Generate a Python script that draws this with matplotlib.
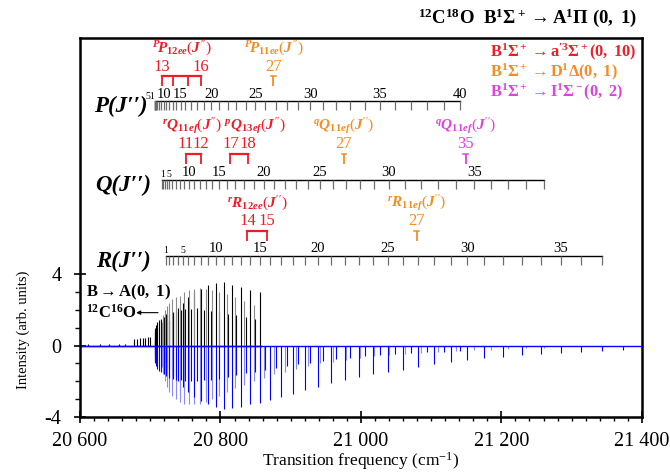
import matplotlib
matplotlib.use('Agg')
import matplotlib.pyplot as plt
from matplotlib.ticker import FixedLocator, MultipleLocator, FuncFormatter

plt.rcParams['font.family'] = ['Liberation Serif', 'DejaVu Serif']
plt.rcParams['mathtext.fontset'] = 'custom'
plt.rcParams['mathtext.rm'] = 'Liberation Serif'
plt.rcParams['mathtext.it'] = 'Liberation Serif:italic:bold'
plt.rcParams['mathtext.bf'] = 'Liberation Serif:bold'
plt.rcParams['axes.unicode_minus'] = False

# line positions (cm-1)
P_freq = [20707.3, 20706.8, 20706.4, 20706.4, 20706.8, 20707.8, 20709.7, 20712.0, 20715.3, 20719.6,
          20722.9, 20727.2, 20731.9, 20737.1, 20743.2, 20749.9, 20757.4, 20766.4, 20776.3, 20787.2,
          20798.6, 20810.4, 20822.7, 20835.9, 20849.6, 20863.8, 20878.9, 20894.5, 20910.6, 20927.6,
          20946.1, 20965.0, 20984.8, 21005.6, 21026.9, 21048.7, 21070.9, 21094.1, 21117.7, 21141.4]
Q_freq = [20717.0, 20718.4, 20720.6, 20723.4, 20726.9, 20731.1, 20736.1, 20741.8, 20748.1, 20755.2,
          20762.2, 20770.2, 20778.7, 20788.2, 20798.6, 20809.5, 20821.3, 20834.0, 20847.3, 20861.5,
          20876.1, 20891.7, 20907.8, 20924.3, 20941.8, 20960.3, 20979.2, 20998.6, 21018.9, 21039.7,
          21062.4, 21085.6, 21109.7, 21135.2, 21161.7, 21185.3, 21209.9, 21235.0, 21260.0]
R_freq = [20722.0, 20727.2, 20732.9, 20739.5, 20746.6, 20754.1, 20762.6, 20771.6, 20781.6, 20793.4,
          20804.7, 20816.5, 20829.3, 20842.6, 20856.3, 20870.9, 20886.5, 20903.1, 20920.6, 20939.0,
          20957.9, 20977.3, 20997.2, 21017.5, 21038.3, 21059.6, 21081.8, 21104.5, 21127.7, 21151.3,
          21175.9, 21201.9, 21228.8, 21256.3, 21284.6, 21313.5, 21342.8, 21372.5]

# simulated intensities (drawn downwards)
P_calc = [-0.3, -0.5, -0.7, -0.9, -1.0, -1.15, -1.3, -1.4, -1.5, -1.6,
          -1.7, -1.8, -1.85, -1.9, -1.95, -2.0, -2.0, -2.0, -1.95, -1.9,
          -1.85, -1.75, -1.65, -1.55, -1.45, -1.35, -1.25, -1.15, -1.05, -0.95,
          -0.85, -0.75, -0.68, -0.6, -0.53, -0.47, -0.42, -0.37, -0.33, -0.3]
Q_calc = [-1.2, -1.6, -2.0, -2.3, -2.6, -2.8, -3.0, -3.15, -3.25, -3.3,
          -3.3, -3.25, -3.15, -3.0, -2.8, -2.6, -2.4, -2.2, -2.0, -1.8,
          -1.6, -1.45, -1.3, -1.15, -1.0, -0.9, -0.8, -0.7, -0.6, -0.52,
          -0.45, -0.4, -0.35, -0.3, -0.26, -0.22, -0.19, -0.16, -0.14]
R_calc = [-0.9, -1.3, -1.7, -2.0, -2.3, -2.6, -2.9, -3.1, -3.3, -3.45,
          -3.55, -3.5, -3.45, -3.3, -3.2, -3.05, -2.9, -2.7, -2.5, -2.3,
          -2.1, -1.9, -1.75, -1.6, -1.5, -1.35, -1.2, -1.05, -0.92, -0.82,
          -0.72, -0.62, -0.52, -0.46, -0.4, -0.34, -0.3, -0.26]

# measured intensities (only up to ~20857 cm-1)
P_exp = [0.3, 0.5, 0.7, 0.9, 1.0, 1.15, 1.3, 1.45, 1.5, 1.6,
         1.75, 1.8, 1.9, 1.95, 2.0, 2.05, 2.05, 2.1, 2.0, 1.95,
         1.9, 1.8, 1.7, 1.6, 1.5]
Q_exp = [1.3, 1.7, 2.0, 2.2, 2.4, 2.6, 2.7, 2.8, 3.0, 3.1,
         3.2, 3.25, 3.2, 3.1, 3.0, 2.9, 2.7, 2.5, 2.3]
R_exp = [0.9, 1.4, 1.8, 2.1, 2.4, 2.7, 3.0, 3.2, 3.4, 3.5,
         3.55, 3.4, 3.3, 3.1, 3.0]

# 12C16O B-A(0,1) contamination lines
co16_freq = [20612, 20628, 20641, 20655, 20664, 20677, 20681, 20685, 20689, 20693, 20697, 20700]
co16_int = [0.12, 0.08, 0.12, 0.1, 0.1, 0.35, 0.4, 0.42, 0.45, 0.45, 0.5, 0.5]

RED = '#ee1c25'
ORANGE = '#f68b1f'
MAGENTA = '#e040e0'
BLUE = '#0000ff'
LBLUE = '#8a8aff'
GRAY = '#8c8c8c'

fig = plt.figure(figsize=(6.7, 4.74), dpi=100)
ax = fig.add_axes([0.1194, 0.1203, 0.8386, 0.7995])

# spectrum
ax.plot([20600, 20858], [0, 0], color='k', lw=1)
ax.vlines(co16_freq, 0, co16_int, color='k', lw=0.8)
ax.vlines(P_freq[:len(P_exp)], 0, P_exp, color='k', lw=0.8)
ax.vlines(R_freq[:len(R_exp)], 0, R_exp, color='k', lw=0.8)
ax.vlines(Q_freq[:len(Q_exp)], 0, Q_exp, color=GRAY, lw=0.8)
ax.vlines(Q_freq, Q_calc, 0, color=LBLUE, lw=0.8)
ax.vlines(P_freq, P_calc, 0, color=BLUE, lw=0.8)
ax.vlines(R_freq, R_calc, 0, color=BLUE, lw=0.8)
ax.axhline(0, color=BLUE, lw=1)


def ladder(freqs, y0, name, labels, small, name_x=20701):
    ax.plot([min(freqs), max(freqs)], [y0, y0], color='k', lw=1)
    ax.vlines(freqs, y0 - 0.52, y0, color='#6e6e6e', lw=0.9)
    for j in labels:
        ax.text(freqs[j - 1], y0 + 0.03, str(j), ha='center', va='bottom', fontsize=10.5)
    for j in small:
        ax.text(freqs[j - 1], y0 + 0.03, str(j), ha='center', va='bottom', fontsize=7)
    ax.text(name_x, y0 - 0.3, name, ha='right', va='center', fontsize=16.5,
            fontweight='bold', fontstyle='italic')


def marker(xs, y0, color, nums, label, lx):
    if len(xs) == 1:
        ax.plot([xs[0] - 3.5, xs[0] + 3.5], [y0, y0], color=color, lw=1.1)
    else:
        ax.plot([xs[0], xs[-1]], [y0, y0], color=color, lw=1.6)
    ax.vlines(xs, y0 - 0.56, y0, color=color, lw=1.3)
    for x, n in nums:
        ax.text(x, y0 + 0.1, n, ha='center', va='bottom', fontsize=12, color=color)
    ax.text(lx, y0 + 1.55, label, ha='center', va='center', fontsize=11, color=color)


ladder(P_freq, 13.71, 'P(J\u2032\u2032)', [10, 15, 20, 25, 30, 35, 40], [], name_x=20696)
ax.text(P_freq[0], 13.74, '51', ha='right', va='bottom', fontsize=7)
ladder(Q_freq, 9.31, 'Q(J\u2032\u2032)', [10, 15, 20, 25, 30, 35], [1, 5])
ladder(R_freq[:37], 5.03, 'R(J\u2032\u2032)', [10, 15, 20, 25, 30, 35], [1, 5])

P12_pos = [20716.3, 20731.9, 20753.2, 20771.6]
marker(P12_pos, 15.1, RED, [(P12_pos[0], '13'), (P12_pos[-1], '16')],
       r"${}^{P}\!P_{\mathbf{12}ee}(J'')$", 20744.7)
marker([20875.2], 15.1, ORANGE, [(20875.2, '27')], r"${}^{P}\!P_{\mathbf{11}ee}(J'')$", 20876.6)

Q11_pos = [20750.4, 20771.6]
Q13_pos = [20814.2, 20839.7]
marker(Q11_pos, 10.76, RED, [(Q11_pos[0], '11'), (Q11_pos[1], '12')],
       r"${}^{r}Q_{\mathbf{11}ef}(J'')$", 20760.3)
marker(Q13_pos, 10.76, RED, [(Q13_pos[0], '17'), (Q13_pos[1], '18')],
       r"${}^{p}Q_{\mathbf{13}ef}(J'')$", 20849.6)
marker([20975.9], 10.76, ORANGE, [(20975.9, '27')], r"${}^{q}Q_{\mathbf{11}ef}(J'')$", 20975.9)
marker([21148.9], 10.76, MAGENTA, [(21148.9, '35')], r"${}^{q}Q_{\mathbf{11}ef}(J'')$", 21148.9)

R12_pos = [20838.3, 20866.7]
marker(R12_pos, 6.42, RED, [(R12_pos[0], '14'), (R12_pos[1], '15')],
       r"${}^{r}R_{\mathbf{12}ee}(J'')$", 20852.5)
marker([21079.4], 6.42, ORANGE, [(21079.4, '27')], r"${}^{r}R_{\mathbf{11}ef}(J'')$", 21079.4)

# 12C16O annotation
ax.text(20608, 2.98, r'$\mathbf{B \rightarrow A(0,\ 1)}$', ha='left', va='center', fontsize=12)
ax.text(20608, 1.85, r'$\mathbf{{}^{12}C^{16}O}$', ha='left', va='center', fontsize=12)
ax.annotate('', xy=(20676, 1.85), xytext=(20715, 1.85),
            arrowprops=dict(arrowstyle='-|>', color='k', lw=0.8, mutation_scale=6))

# axes
ax.set_xlim(20600, 21400)
ax.set_ylim(-4, 17.25)
ax.xaxis.set_major_locator(MultipleLocator(200))
ax.xaxis.set_minor_locator(MultipleLocator(20))
ax.xaxis.set_major_formatter(FuncFormatter(lambda v, p: f'{int(v):,}'.replace(',', ' ')))
ax.yaxis.set_major_locator(FixedLocator([-4, 0, 4]))
ax.yaxis.set_minor_locator(FixedLocator([-3, -2, -1, 1, 2, 3]))
ax.tick_params(axis='x', which='major', direction='inout', length=9, width=1.2, labelsize=14.5, pad=6)
ax.tick_params(axis='x', which='minor', direction='out', length=3, width=1)
ax.tick_params(axis='y', which='major', direction='inout', length=8.6, width=1.2, labelsize=14.5, pad=9)
ax.tick_params(axis='y', which='minor', direction='out', length=3.6, width=1)
for s in ax.spines.values():
    s.set_linewidth(1.8)

ax.set_xlabel('Transition frequency (cm$^{-1}$)', fontsize=12.5, labelpad=0)
ax.text(-0.101, 0.23, 'Intensity (arb. units)', transform=ax.transAxes, rotation=90,
        ha='center', va='center', fontsize=10.5)

# title and legend
fig.text(637 / 670, 1 - 18 / 474,
         r'$\mathbf{{}^{12}C^{18}O\ \ B^1\Sigma^+ \rightarrow A^1\Pi\ (0,\ 1)}$',
         ha='right', va='center', fontsize=13.5)
leg_text = [r'$\mathbf{B^1\Sigma^+ \rightarrow a^{\prime 3}\Sigma^+(0,\ 10)}$',
            r'$\mathbf{B^1\Sigma^+ \rightarrow D^1\Delta(0,\ 1)}$',
            r'$\mathbf{B^1\Sigma^+ \rightarrow I^1\Sigma^-(0,\ 2)}$']
leg_color = [RED, ORANGE, MAGENTA]
for i, (t, c) in enumerate(zip(leg_text, leg_color)):
    fig.text(490 / 670, 1 - (52 + 20 * i) / 474, t, ha='left', va='center', fontsize=11.8, color=c)

fig.savefig('out.png', dpi=100)
